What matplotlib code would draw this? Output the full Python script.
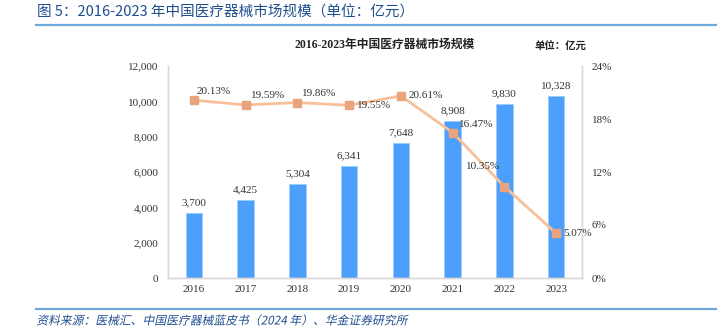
import matplotlib
matplotlib.use("Agg")
import matplotlib.pyplot as plt
from matplotlib.lines import Line2D
from matplotlib.patheffects import AbstractPathEffect
from matplotlib.transforms import Affine2D
from matplotlib.ticker import FuncFormatter

years = ["2016", "2017", "2018", "2019", "2020", "2021", "2022", "2023"]
market_size = [3700, 4425, 5304, 6341, 7648, 8908, 9830, 10328]  # 亿元
growth_pct = [20.13, 19.59, 19.86, 19.55, 20.61, 16.47, 10.35, 5.07]
# offsets (px) for the growth rate labels
growth_label_offsets = [(20, 9), (22, 9), (22, 9), (25, 0), (25, 0), (24, 8), (-21, 20), (21, 0)]

CJK = ["Noto Sans CJK SC", "DejaVu Sans"]
SERIF = ["Liberation Serif", "Noto Sans CJK SC"]
BAR_C = "#4C9FFA"
LINE_C = "#F8C09A"
MARK_C = "#E9A47E"
AXIS_C = "#D9D9D9"
W, H = 722, 330


class Slant(AbstractPathEffect):
    """Fake oblique: shear glyph paths around a baseline y (display px)."""

    def __init__(self, y0, deg=12):
        super().__init__()
        self.y0 = y0
        self.deg = deg

    def draw_path(self, renderer, gc, tpath, affine, rgbFace=None):
        shear = Affine2D().translate(0, -self.y0).skew_deg(self.deg, 0).translate(0, self.y0)
        renderer.draw_path(gc, tpath, affine + shear, rgbFace)


fig = plt.figure(figsize=(W / 100, H / 100), dpi=100)

# header and footer
fig.text(37 / W, 1 - 13 / H, "图 5：2016-2023 年中国医疗器械市场规模（单位：亿元）",
         family=CJK, fontsize=10.5, color="#1F4E8F", va="center", ha="left")
fig.add_artist(Line2D([36 / W, 716 / W], [1 - 24.5 / H] * 2, color="#6FA8DC", lw=1.6))
fig.add_artist(Line2D([36 / W, 716 / W], [1 - 308.5 / H] * 2, color="#6FA8DC", lw=1.6))
fig.text(37 / W, 1 - 321 / H, "资料来源：医械汇、中国医疗器械蓝皮书（2024 年）、华金证券研究所",
         family=CJK, fontsize=8.5, color="#1F4E8F", va="center", ha="left",
         path_effects=[Slant(H - 321)])

ax = fig.add_axes([168 / W, (H - 278) / H, 414 / W, 212 / H])
x = list(range(len(years)))
ax.bar(x, market_size, width=0.32, color=BAR_C, edgecolor="#9CCBFF", linewidth=0.6, zorder=2)
for xi, v in zip(x, market_size):
    ax.annotate(f"{v:,}", (xi, v), xytext=(0, 4), textcoords="offset points",
                ha="center", va="bottom", family=SERIF, fontsize=8, color="#333333")

ax.set_xlim(-0.5, len(years) - 0.5)
ax.set_ylim(0, 12000)
ax.set_yticks(range(0, 12001, 2000))
ax.yaxis.set_major_formatter(FuncFormatter(lambda v, _: f"{int(v):,}"))
ax.set_xticks(x)
ax.set_xticklabels(years)

ax2 = ax.twinx()
ax2.plot(x, growth_pct, color=LINE_C, lw=2.0, marker="s", markersize=5.5,
         markerfacecolor=MARK_C, markeredgecolor=MARK_C, zorder=3)
for xi, g, (dx, dy) in zip(x, growth_pct, growth_label_offsets):
    ax2.annotate(f"{g:.2f}%", (xi, g), xytext=(dx * 0.72, dy * 0.72), textcoords="offset points",
                 ha="center", va="center", family=SERIF, fontsize=8, color="#333333")
ax2.set_ylim(0, 24)
ax2.set_yticks(range(0, 25, 6))
ax2.yaxis.set_major_formatter(FuncFormatter(lambda v, _: f"{int(v)}%"))

for a in (ax, ax2):
    a.spines["top"].set_visible(False)
    for s in ("left", "right", "bottom"):
        a.spines[s].set_color(AXIS_C)
        a.spines[s].set_linewidth(1.0)
    a.tick_params(length=0, labelsize=8, colors="#333333")
    for lab in a.get_xticklabels() + a.get_yticklabels():
        lab.set_family(SERIF)
ax2.tick_params(pad=7)
ax.tick_params(axis="y", pad=7)
ax.tick_params(axis="x", pad=5)

fig.text(385 / W, 1 - 45 / H, "2016-2023年中国医疗器械市场规模", family=SERIF,
         fontsize=8.5, fontweight="bold", ha="center", va="center", color="#222222")
fig.text(560 / W, 1 - 47 / H, "单位：亿元", family=CJK,
         fontsize=7.5, fontweight="bold", ha="center", va="center", color="#222222")

fig.savefig("out.png", dpi=100)
